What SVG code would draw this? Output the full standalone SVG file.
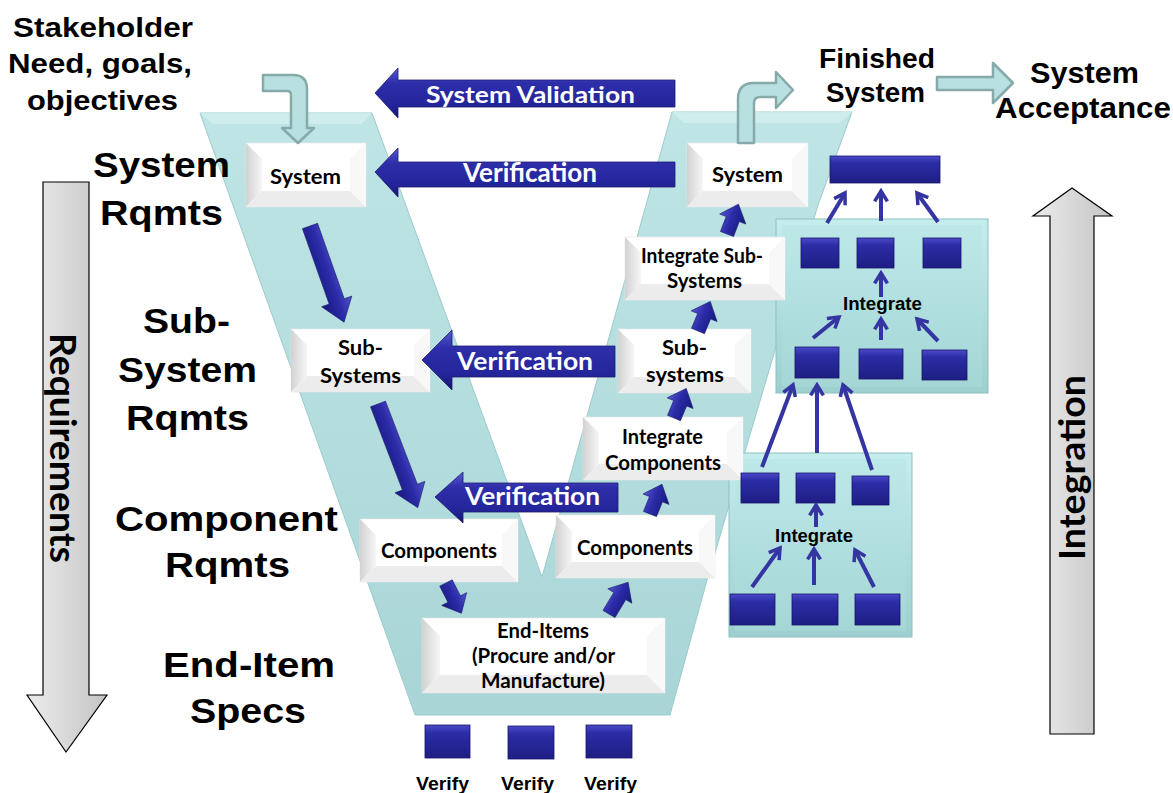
<svg xmlns="http://www.w3.org/2000/svg" width="1173" height="793" viewBox="0 0 1173 793">
<defs>
<linearGradient id="vfill" x1="0" y1="0" x2="0" y2="1"><stop offset="0" stop-color="#bfe5e6"/><stop offset="1" stop-color="#a9d5d6"/></linearGradient>
<linearGradient id="bevL" x1="0" y1="0" x2="1" y2="0"><stop offset="0" stop-color="#d2d2d2"/><stop offset="1" stop-color="#f6f6f6"/></linearGradient>
<linearGradient id="navyV" x1="0" y1="0" x2="0" y2="1"><stop offset="0" stop-color="#5a5ad2"/><stop offset="0.3" stop-color="#2e2eaa"/><stop offset="0.75" stop-color="#24249a"/><stop offset="1" stop-color="#15156c"/></linearGradient>
<linearGradient id="navyA" x1="0" y1="0" x2="0" y2="1"><stop offset="0" stop-color="#5454d0"/><stop offset="0.45" stop-color="#2b2ba8"/><stop offset="1" stop-color="#17177a"/></linearGradient>
<linearGradient id="sq" x1="0" y1="0" x2="0" y2="1"><stop offset="0" stop-color="#4a4ac8"/><stop offset="0.25" stop-color="#2c2ca6"/><stop offset="1" stop-color="#1e1e84"/></linearGradient>
<linearGradient id="tealBox" x1="0" y1="0" x2="0" y2="1"><stop offset="0" stop-color="#c6eded"/><stop offset="1" stop-color="#9dcfcf"/></linearGradient>
<linearGradient id="tealIn" x1="0" y1="0" x2="0" y2="1"><stop offset="0" stop-color="#bde8e8"/><stop offset="1" stop-color="#a5d6d6"/></linearGradient>
<linearGradient id="grayL" x1="0" y1="0" x2="1" y2="0"><stop offset="0" stop-color="#ececec"/><stop offset="1" stop-color="#c4c4c4"/></linearGradient>
<marker id="chev" viewBox="0 0 10 10" refX="8" refY="5" markerWidth="4" markerHeight="4" orient="auto" markerUnits="strokeWidth"><path d="M1.5,1 L8,5 L1.5,9" fill="none" stroke="#3535a2" stroke-width="2.2" stroke-linejoin="miter"/></marker>
<style>
.big{font-family:"Liberation Sans",Arial,sans-serif;font-weight:bold;fill:#000}
.bx{font-family:Lato,"Open Sans",sans-serif;font-weight:bold;font-size:20px;fill:#000}
.vt{font-family:Lato,"Open Sans",sans-serif;font-weight:bold;fill:#fff}
.intl{font-family:"Liberation Sans",Arial,sans-serif;font-weight:bold;font-size:18px;fill:#000}
.vfy{font-family:"Liberation Sans",Arial,sans-serif;font-weight:bold;font-size:19px;fill:#000}
.wbox{fill:#fff;stroke:#e6e6e6;stroke-width:0.6}
.bl{fill:url(#bevL)}
.bb{fill:#ececec}
.br{fill:#f8f8f8}
.sqr{fill:url(#sq);stroke:#16166a;stroke-width:0.8}
.ln{stroke:#3535a2;stroke-width:4;fill:none;marker-end:url(#chev)}
.hook{fill:#b9e0e0;stroke:#86a9a9;stroke-width:2.5;stroke-linejoin:round}
.varr{fill:url(#navyV);stroke:#1c1c70;stroke-width:0.8}
.barr{fill:url(#navyA);stroke:#1c1c70;stroke-width:0.6}
.ibox{fill:url(#tealBox);stroke:#8cc0c0;stroke-width:1}
.iin{fill:url(#tealIn)}
.gar{fill:url(#grayL);stroke:#000;stroke-width:1.2}
</style>
</defs>

<g id="vshape">
<path d="M200,113 L372,113 L542,577 L672,112 L852,112 L818,205 L707,580 L670,715 L415,715 Z" fill="url(#vfill)" stroke="#9ccaca" stroke-width="1"/>
<path d="M200,113 L372,113 L361,124 L213,124 Z" fill="#d3efef" opacity="0.8"/>
<path d="M672,112 L852,112 L840,123 L684,123 Z" fill="#d3efef" opacity="0.8"/>
</g>

<g id="requirements-arrow">
<path class="gar" d="M43,182 H89 V695 H107 L66,752 L27,695 H43 Z"/>
<text class="vt" style="fill:#000" font-size="37" transform="translate(50,333) rotate(90)" textLength="230" lengthAdjust="spacingAndGlyphs">Requirements</text>
</g>
<g id="integration-arrow">
<path class="gar" d="M1050,734 V216 H1033 L1072,188 L1112,216 H1094 V734 Z"/>
<text class="vt" style="fill:#000" font-size="36" transform="translate(1085,560) rotate(-90)" textLength="185" lengthAdjust="spacingAndGlyphs">Integration</text>
</g>

<g id="labels-left">
<text class="big" font-size="28" x="13" y="37" textLength="180" lengthAdjust="spacingAndGlyphs">Stakeholder</text>
<text class="big" font-size="28" x="8" y="73" textLength="184" lengthAdjust="spacingAndGlyphs">Need, goals,</text>
<text class="big" font-size="28" x="27" y="110" textLength="151" lengthAdjust="spacingAndGlyphs">objectives</text>
<text class="big" font-size="35" x="93" y="177" textLength="137" lengthAdjust="spacingAndGlyphs">System</text>
<text class="big" font-size="35" x="100" y="225" textLength="123" lengthAdjust="spacingAndGlyphs">Rqmts</text>
<text class="big" font-size="35" x="143" y="333" textLength="87" lengthAdjust="spacingAndGlyphs">Sub-</text>
<text class="big" font-size="35" x="118" y="382" textLength="139" lengthAdjust="spacingAndGlyphs">System</text>
<text class="big" font-size="35" x="126" y="430" textLength="123" lengthAdjust="spacingAndGlyphs">Rqmts</text>
<text class="big" font-size="35" x="115" y="531" textLength="223" lengthAdjust="spacingAndGlyphs">Component</text>
<text class="big" font-size="35" x="165" y="577" textLength="125" lengthAdjust="spacingAndGlyphs">Rqmts</text>
<text class="big" font-size="35" x="163" y="677" textLength="172" lengthAdjust="spacingAndGlyphs">End-Item</text>
<text class="big" font-size="35" x="190" y="723" textLength="116" lengthAdjust="spacingAndGlyphs">Specs</text>
</g>

<g id="labels-right">
<text class="big" font-size="28" x="819" y="68" textLength="116" lengthAdjust="spacingAndGlyphs">Finished</text>
<text class="big" font-size="28" x="826" y="102" textLength="99" lengthAdjust="spacingAndGlyphs">System</text>
<text class="big" font-size="29" x="1030" y="83" textLength="109" lengthAdjust="spacingAndGlyphs">System</text>
<text class="big" font-size="29" x="995" y="118" textLength="176" lengthAdjust="spacingAndGlyphs">Acceptance</text>
</g>

<g id="integrate-upper">
<rect class="ibox" x="776" y="219" width="212" height="174"/>
<rect class="iin" x="782" y="225" width="200" height="162"/>
<text class="intl" x="843" y="310" textLength="79" lengthAdjust="spacingAndGlyphs">Integrate</text>
</g>
<g id="integrate-lower">
<rect class="ibox" x="729" y="453" width="183" height="184"/>
<rect class="iin" x="735" y="459" width="171" height="172"/>
<text class="intl" x="775" y="542" textLength="78" lengthAdjust="spacingAndGlyphs">Integrate</text>
</g>

<g id="box-system-left">
<rect class="wbox" x="246" y="143" width="120" height="64"/>
<path class="bl" d="M246,143 L262,159 L262,191 L246,207Z"/><path class="bb" d="M246,207 L262,191 L350,191 L366,207Z"/><path class="br" d="M366,143 L366,207 L350,191 L350,159Z"/>
<text class="bx" x="270" y="184" textLength="71" lengthAdjust="spacingAndGlyphs">System</text>
</g>
<g id="box-subsystems-left">
<rect class="wbox" x="291" y="329" width="139" height="63"/>
<path class="bl" d="M291,329 L307,345 L307,376 L291,392Z"/><path class="bb" d="M291,392 L307,376 L414,376 L430,392Z"/><path class="br" d="M430,329 L430,392 L414,376 L414,345Z"/>
<text class="bx" x="338" y="355" textLength="45" lengthAdjust="spacingAndGlyphs">Sub-</text>
<text class="bx" x="320" y="383" textLength="81" lengthAdjust="spacingAndGlyphs">Systems</text>
</g>
<g id="box-components-left">
<rect class="wbox" x="360" y="519" width="158" height="63"/>
<path class="bl" d="M360,519 L376,535 L376,566 L360,582Z"/><path class="bb" d="M360,582 L376,566 L502,566 L518,582Z"/><path class="br" d="M518,519 L518,582 L502,566 L502,535Z"/>
<text class="bx" x="381" y="558" textLength="116" lengthAdjust="spacingAndGlyphs">Components</text>
</g>
<g id="box-components-right">
<rect class="wbox" x="556" y="515" width="159" height="63"/>
<path class="bl" d="M556,515 L572,531 L572,562 L556,578Z"/><path class="bb" d="M556,578 L572,562 L699,562 L715,578Z"/><path class="br" d="M715,515 L715,578 L699,562 L699,531Z"/>
<text class="bx" x="577" y="555" textLength="116" lengthAdjust="spacingAndGlyphs">Components</text>
</g>
<g id="box-integrate-components">
<rect class="wbox" x="583" y="417" width="160" height="63"/>
<path class="bl" d="M583,417 L599,433 L599,464 L583,480Z"/><path class="bb" d="M583,480 L599,464 L727,464 L743,480Z"/><path class="br" d="M743,417 L743,480 L727,464 L727,433Z"/>
<text class="bx" x="622" y="444" textLength="81" lengthAdjust="spacingAndGlyphs">Integrate</text>
<text class="bx" x="605" y="470" textLength="116" lengthAdjust="spacingAndGlyphs">Components</text>
</g>
<g id="box-subsystems-right">
<rect class="wbox" x="618" y="329" width="133" height="64"/>
<path class="bl" d="M618,329 L634,345 L634,377 L618,393Z"/><path class="bb" d="M618,393 L634,377 L735,377 L751,393Z"/><path class="br" d="M751,329 L751,393 L735,377 L735,345Z"/>
<text class="bx" x="662" y="355" textLength="45" lengthAdjust="spacingAndGlyphs">Sub-</text>
<text class="bx" x="646" y="382" textLength="78" lengthAdjust="spacingAndGlyphs">systems</text>
</g>
<g id="box-integrate-subsystems">
<rect class="wbox" x="625" y="237" width="160" height="63"/>
<path class="bl" d="M625,237 L641,253 L641,284 L625,300Z"/><path class="bb" d="M625,300 L641,284 L769,284 L785,300Z"/><path class="br" d="M785,237 L785,300 L769,284 L769,253Z"/>
<text class="bx" x="641" y="263" textLength="122" lengthAdjust="spacingAndGlyphs">Integrate Sub-</text>
<text class="bx" x="667" y="288" textLength="75" lengthAdjust="spacingAndGlyphs">Systems</text>
</g>
<g id="box-system-right">
<rect class="wbox" x="687" y="143" width="121" height="64"/>
<path class="bl" d="M687,143 L703,159 L703,191 L687,207Z"/><path class="bb" d="M687,207 L703,191 L792,191 L808,207Z"/><path class="br" d="M808,143 L808,207 L792,191 L792,159Z"/>
<text class="bx" x="712" y="182" textLength="71" lengthAdjust="spacingAndGlyphs">System</text>
</g>
<g id="box-end-items">
<rect class="wbox" x="422" y="618" width="243" height="75"/>
<path class="bl" d="M422,618 L440,636 L440,675 L422,693Z"/><path class="bb" d="M422,693 L440,675 L647,675 L665,693Z"/><path class="br" d="M665,618 L665,693 L647,675 L647,636Z"/>
<text class="bx" x="497" y="638" textLength="92" lengthAdjust="spacingAndGlyphs">End-Items</text>
<text class="bx" x="472" y="663" textLength="143" lengthAdjust="spacingAndGlyphs">(Procure and/or</text>
<text class="bx" x="481" y="688" textLength="124" lengthAdjust="spacingAndGlyphs">Manufacture)</text>
</g>

<g id="squares">
<rect class="sqr" x="830" y="156" width="110" height="27"/>
<rect class="sqr" x="801" y="238" width="38" height="30"/>
<rect class="sqr" x="857" y="238" width="37" height="30"/>
<rect class="sqr" x="923" y="238" width="38" height="30"/>
<rect class="sqr" x="795" y="347" width="44" height="31"/>
<rect class="sqr" x="859" y="349" width="44" height="30"/>
<rect class="sqr" x="922" y="350" width="45" height="30"/>
<rect class="sqr" x="741" y="473" width="38" height="30"/>
<rect class="sqr" x="796" y="473" width="39" height="30"/>
<rect class="sqr" x="852" y="476" width="37" height="29"/>
<rect class="sqr" x="730" y="594" width="45" height="31"/>
<rect class="sqr" x="792" y="594" width="46" height="31"/>
<rect class="sqr" x="855" y="594" width="45" height="31"/>
<rect class="sqr" x="425" y="725" width="45" height="33"/>
<rect class="sqr" x="508" y="726" width="46" height="33"/>
<rect class="sqr" x="586" y="725" width="46" height="33"/>
</g>
<g id="verify-labels">
<text class="vfy" x="416" y="790" textLength="53" lengthAdjust="spacingAndGlyphs">Verify</text>
<text class="vfy" x="501" y="790" textLength="53" lengthAdjust="spacingAndGlyphs">Verify</text>
<text class="vfy" x="584" y="790" textLength="53" lengthAdjust="spacingAndGlyphs">Verify</text>
</g>

<g id="connectors">
<path class="hook" d="M263,75 H293 Q307,75 307,89 V128 H314 L298,143 L282,128 H291 V95 Q291,91 287,91 H263 Z"/>
<path class="hook" d="M738,143 V99 Q738,83 754,83 H776 V72 L793,90 L776,108 V97 H760 Q754,97 754,103 V143 Z"/>
<path class="hook" d="M937,77 H993 V63 L1013,83 L993,103 V90 H937 Z"/>

<path class="varr" d="M375,93 L398,68 V80 H675 V107 H398 V118 Z"/>
<path class="varr" d="M375,172 L398,148 V162 H675 V187 H398 V197 Z"/>
<path class="varr" d="M422,360 L452,330 V346 H615 V377 H452 V390 Z"/>
<path class="varr" d="M435,497 L463,472 V483 H618 V512 H463 V523 Z"/>

<path class="barr" transform="translate(310,226) rotate(70.5)" d="M0,-8 H80 V-16 L102,0 L80,16 V8 H0 Z"/>
<path class="barr" transform="translate(378,404) rotate(69)" d="M0,-8 H89 V-16 L111,0 L89,16 V8 H0 Z"/>
<path class="barr" transform="translate(446,583) rotate(63)" d="M0,-7 H18 V-14 L34,0 L18,14 V7 H0 Z"/>
<path class="barr" transform="translate(609,614) rotate(-59)" d="M0,-7 H21 V-14 L37,0 L21,14 V7 H0 Z"/>
<path class="barr" transform="translate(650,514) rotate(-68)" d="M0,-7 H16 V-14 L32,0 L16,14 V7 H0 Z"/>
<path class="barr" transform="translate(674,418) rotate(-67.5)" d="M0,-7 H16 V-14 L32,0 L16,14 V7 H0 Z"/>
<path class="barr" transform="translate(698,331) rotate(-67.5)" d="M0,-7 H16 V-14 L32,0 L16,14 V7 H0 Z"/>
<path class="barr" transform="translate(727,234) rotate(-69)" d="M0,-7 H16 V-14 L32,0 L16,14 V7 H0 Z"/>

<line class="ln" x1="827" y1="223" x2="845" y2="193"/>
<line class="ln" x1="881" y1="221" x2="881" y2="191"/>
<line class="ln" x1="938" y1="222" x2="917" y2="193"/>
<line class="ln" x1="881" y1="297" x2="881" y2="273"/>
<line class="ln" x1="813" y1="338" x2="839" y2="317"/>
<line class="ln" x1="881" y1="340" x2="881" y2="319"/>
<line class="ln" x1="938" y1="341" x2="917" y2="319"/>
<line class="ln" x1="762" y1="467" x2="793" y2="385"/>
<line class="ln" x1="817" y1="453" x2="817" y2="385"/>
<line class="ln" x1="872" y1="470" x2="843" y2="385"/>
<line class="ln" x1="816" y1="527" x2="816" y2="505"/>
<line class="ln" x1="752" y1="587" x2="780" y2="548"/>
<line class="ln" x1="814" y1="585" x2="814" y2="549"/>
<line class="ln" x1="874" y1="587" x2="855" y2="550"/>
</g>

<g id="verification-labels">
<text class="vt" font-size="23" x="426" y="103" textLength="209" lengthAdjust="spacingAndGlyphs">System Validation</text>
<text class="vt" font-size="27" x="463" y="182" textLength="134" lengthAdjust="spacingAndGlyphs">Verification</text>
<text class="vt" font-size="25" x="457" y="370" textLength="136" lengthAdjust="spacingAndGlyphs">Verification</text>
<text class="vt" font-size="24" x="465" y="505" textLength="135" lengthAdjust="spacingAndGlyphs">Verification</text>
</g>
</svg>
